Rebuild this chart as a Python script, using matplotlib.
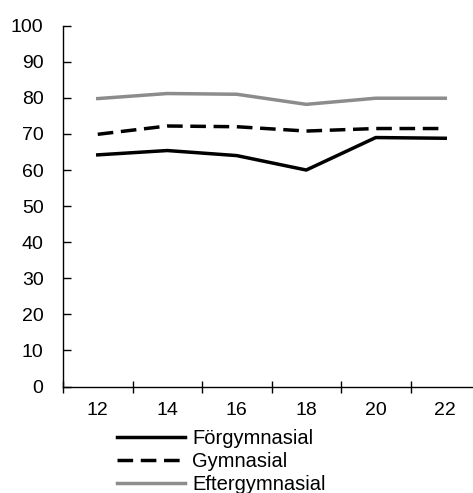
import matplotlib
matplotlib.use('Agg')
import matplotlib.pyplot as plt

plt.rcParams['font.family'] = ['Liberation Sans', 'DejaVu Sans']

ages = ['12', '14', '16', '18', '20', '22']
forgymnasial = [64.2, 65.4, 64.0, 60.0, 69.0, 68.8]
gymnasial = [69.9, 72.2, 72.0, 70.8, 71.5, 71.5]
eftergymnasial = [79.8, 81.2, 81.0, 78.2, 79.9, 79.9]

fig = plt.figure(figsize=(4.73, 4.93), dpi=100)
ax = fig.add_axes([63 / 473, 106.5 / 493, 417 / 473, 360.8 / 493])

x = list(range(len(ages)))
ax.plot(x, forgymnasial, color='black', lw=2.5, label='Förgymnasial')
ax.plot(x, gymnasial, color='black', lw=2.5, ls=(0, (4.5, 2.2)), label='Gymnasial')
ax.plot(x, eftergymnasial, color='#8c8c8c', lw=2.5, label='Eftergymnasial')

ax.set_xlim(-0.5, len(ages) - 0.5)
ax.set_ylim(0, 100)
ax.set_yticks(range(0, 101, 10))
ax.tick_params(axis='y', direction='in', length=6, width=1, labelsize=14, pad=14)

# category axis: ticks between categories, labels at centres
ax.set_xticks([i - 0.5 for i in range(len(ages))])
ax.set_xticklabels([])
ax.set_xticks(x, minor=True)
ax.set_xticklabels(ages, minor=True)
ax.tick_params(axis='x', which='major', direction='inout', length=9, width=1)
ax.tick_params(axis='x', which='minor', length=0, labelsize=14, pad=11)

for s in ['top', 'right']:
    ax.spines[s].set_visible(False)
for s in ['left', 'bottom']:
    ax.spines[s].set_linewidth(1)

fig.legend(loc='upper left', bbox_to_anchor=(117 / 473, 1 - 429 / 493),
           frameon=False, fontsize=14.5, handlelength=3.38, handletextpad=0.35,
           labelspacing=0.19, borderaxespad=0, borderpad=0)

fig.savefig('out.png', dpi=100)
